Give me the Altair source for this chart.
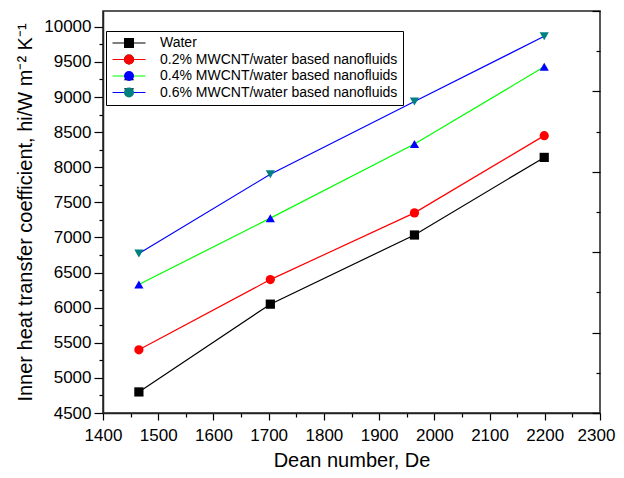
import altair as alt
import pandas as pd

series_names = [
    "Water",
    "0.2% MWCNT/water based nanofluids",
    "0.4% MWCNT/water based nanofluids",
    "0.6% MWCNT/water based nanofluids",
]
dean = [1465, 1703, 1964, 2199]
water = [4800, 6050, 7035, 8140]
mw02 = [5400, 6400, 7350, 8450]
mw04 = [6330, 7275, 8330, 9430]
mw06 = [6770, 7900, 8935, 9865]

line_colors = ["#000000", "#ff0000", "#00ff00", "#0000ff"]
marker_colors = ["#000000", "#ff0000", "#0000ff", "#008080"]
marker_shapes = ["square", "circle", "triangle-up", "triangle-down"]
marker_sizes = [85, 85, 140, 140]

x_ticks = list(range(1400, 2301, 50))
y_ticks = list(range(4500, 10001, 250))
right_ticks = list(range(0, 11))

rows = []
for name, vals in zip(series_names, [water, mw02, mw04, mw06]):
    for d, v in zip(dean, vals):
        rows.append({"series": name, "series_m": name, "De": d, "h": v})
df = pd.DataFrame(rows)

FONT = "Liberation Sans"
W, H = 497, 402

xenc = alt.X(
    "De:Q",
    scale=alt.Scale(domain=[1400, 2300], nice=False, zero=False),
    axis=alt.Axis(
        values=x_ticks,
        format="d",
        labelExpr="datum.value % 100 === 0 ? datum.label : ''",
        labelFlush=False,
        labelOverlap=False,
        labelOffset={"condition": {"test": "datum.value >= 2300", "value": -4}, "value": 0},
        tickSize={"condition": {"test": "datum.value % 100 === 0", "value": 7}, "value": 4},
        tickColor="#000000",
        tickWidth=1.2,
        domainColor="#222222",
        domainWidth=1.5,
        labelFont=FONT,
        labelFontSize=17,
        labelColor="#000000",
        labelPadding=7,
        title="Dean number, De",
        titleFont=FONT,
        titleFontSize=20,
        titleFontWeight="normal",
        titleColor="#000000",
        titlePadding=7,
        grid=False,
    ),
)
yenc = alt.Y(
    "h:Q",
    scale=alt.Scale(domain=[4500, 10225], nice=False, zero=False),
    axis=alt.Axis(
        orient="left",
        values=y_ticks,
        format="d",
        labelExpr="datum.value % 500 === 0 ? datum.label : ''",
        labelOverlap=False,
        tickSize={"condition": {"test": "datum.value % 500 === 0", "value": 9}, "value": 4},
        tickColor="#000000",
        tickWidth=1.2,
        domainColor="#222222",
        domainWidth=1.5,
        labelFont=FONT,
        labelFontSize=17,
        labelColor="#000000",
        labelPadding=3,
        title="Inner heat transfer coefficient, hi/W m\u207b\u00b2 K\u207b\u00b9",
        titleFont=FONT,
        titleFontSize=20,
        titleFontWeight="normal",
        titleColor="#000000",
        titleX=-78,
        titleY=H / 2,
        titleAngle=270,
        titleAlign="center",
        titleBaseline="middle",
        grid=False,
    ),
)

lines = alt.Chart(df).mark_line(strokeWidth=1.2).encode(
    x=xenc,
    y=yenc,
    color=alt.Color(
        "series:N",
        scale=alt.Scale(domain=series_names, range=line_colors),
        legend=alt.Legend(
            orient="none",
            legendX=3,
            legendY=20,
            title=None,
            symbolType="M-3.3,0H3.3",
            symbolSize=100,
            symbolStrokeWidth=1.2,
            symbolOffset=11,
            labelFont=FONT,
            labelFontSize=14,
            labelColor="#000000",
            labelOffset=24,
            labelLimit=500,
            padding=5,
            rowPadding=2.5,
            strokeColor="#000000",
            fillColor="#ffffff",
        ),
    ),
    order=alt.Order("De:Q"),
)

marker_legend = alt.Legend(
    orient="none",
    legendX=3,
    legendY=20,
    title=None,
    symbolSize=100,
    symbolStrokeWidth=0,
    symbolOpacity=1,
    symbolOffset=11,
    labelFont=FONT,
    labelFontSize=14,
    labelOpacity=0,
    labelOffset=24,
    labelLimit=500,
    padding=5,
    rowPadding=2.5,
)

points = alt.Chart(df).mark_point(filled=True, opacity=1, strokeWidth=0).encode(
    x=xenc,
    y=yenc,
    fill=alt.Fill("series_m:N", sort=series_names,
                  scale=alt.Scale(range=marker_colors), legend=marker_legend),
    shape=alt.Shape("series_m:N", sort=series_names,
                    scale=alt.Scale(range=marker_shapes), legend=marker_legend),
    size=alt.Size("series_m:N", sort=series_names,
                  scale=alt.Scale(range=marker_sizes), legend=None),
)

main = alt.layer(lines, points)

right_df = pd.DataFrame({"r": [0, 10]})
right_axis = alt.Chart(right_df).mark_point(opacity=0).encode(
    y=alt.Y(
        "r:Q",
        scale=alt.Scale(domain=[0, 10], nice=False, zero=False),
        axis=alt.Axis(
            orient="left",
            offset=-W,
            values=right_ticks,
            labels=False,
            title=None,
            domain=False,
            grid=False,
            tickColor="#000000",
            tickWidth=1.2,
            tickSize={"condition": {"test": "datum.value % 2 === 0", "value": 8}, "value": 4},
        ),
    )
)

chart = (
    alt.layer(main, right_axis)
    .resolve_scale(y="independent")
    .properties(
        width=W,
        height=H,
        autosize=alt.AutoSizeParams(type="none"),
        padding={"left": 95, "top": 3, "right": 16, "bottom": 57},
        background="#ffffff",
    )
    .configure_view(stroke="#222222", strokeWidth=1.5)
)

chart.save("out.html", embed_options={"renderer": "svg", "actions": False})
